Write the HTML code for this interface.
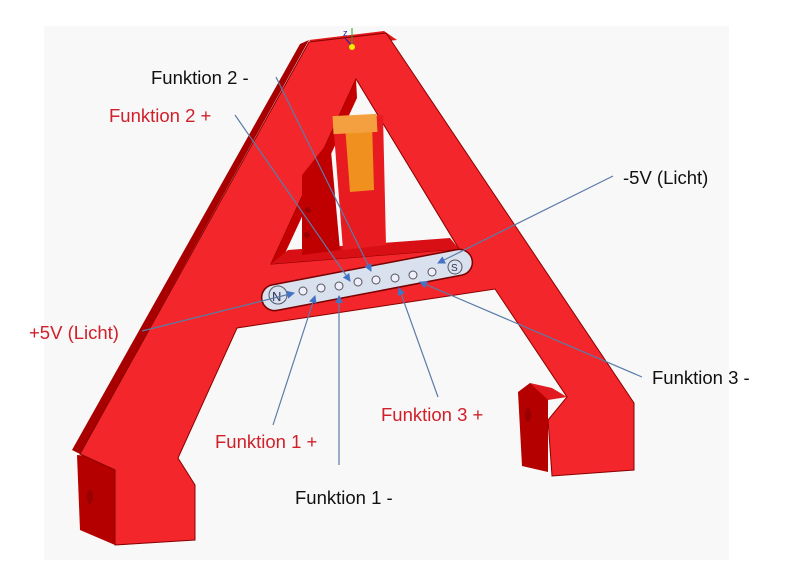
<!DOCTYPE html>
<html><head><meta charset="utf-8"><style>
body{margin:0;background:#fff;width:800px;height:567px;overflow:hidden}
svg{display:block}
text{font-family:"Liberation Sans",sans-serif;font-size:18.5px}
</style></head><body>
<svg width="800" height="567" viewBox="0 0 800 567">
<defs><marker id="a" markerWidth="8" markerHeight="8" refX="7" refY="4" orient="auto" markerUnits="userSpaceOnUse"><path d="M0,0 L8,4 L0,8 z" fill="#4472c4"/></marker></defs>
<rect x="44" y="26" width="685" height="534" fill="#f8f8f8"/>
<polygon points="300,44 309,40 80,454 72,450" fill="#a80000"/>
<polygon points="309,40 384,31 397,40 318,48" fill="#e01818"/>
<polygon points="77,455 115,458 115,545 80,530" fill="#b50000"/>
<path fill-rule="evenodd" fill="#f2262b" stroke="#8a0000" stroke-width="1" d="M309,42 L386,33 L634,403 L634,470 L552,476 L548,420 L567,397 L495,289 L237,328 L178,458 L195,485 L195,540 L115,545 L115,470 L80,454 Z M356,79 L459,249 L271,264 Z"/>
<polygon points="518,392 530,383 548,394 548,472 522,466" fill="#b50000"/>
<polygon points="530,383 552,388 567,397 548,400" fill="#e01a1e"/>
<polygon points="356,79 271,264 281,262 357,98" fill="#c40000"/>
<polygon points="271,264 459,249 450,238 288,250" fill="#d80f14"/>
<polygon points="302,175 330,140 340,250 302,255" fill="#c00000"/>
<polygon points="333,120 383,115 386,245 343,250" fill="#e81c20"/>
<polygon points="345,125 372,122 374,190 350,192" fill="#f0901e"/>
<rect x="333" y="115" width="44" height="18" fill="#f5a040" transform="rotate(-3 355 124)"/>
<circle cx="308" cy="210" r="3" fill="#900"/><circle cx="307" cy="235" r="3" fill="#900"/>
<ellipse cx="90" cy="497" rx="3" ry="7" fill="#900"/>
<ellipse cx="528" cy="415" rx="3" ry="7" fill="#900"/>
<g transform="rotate(-10.8 367 280)">
<rect x="260" y="267" width="214" height="26" rx="13" fill="#d9e1ee" stroke="#700" stroke-width="1.5"/>
</g>
<circle cx="278" cy="295" r="9" fill="none" stroke="#556" stroke-width="1"/>
<text x="272" y="301" style="font-size:13px" fill="#335">N</text>
<circle cx="455" cy="267" r="7" fill="none" stroke="#556" stroke-width="1"/>
<text x="451" y="271" style="font-size:10px" fill="#335">S</text>
<g fill="#eef" stroke="#555" stroke-width="1">
<circle cx="303" cy="291" r="4"/><circle cx="321" cy="288" r="4"/><circle cx="339" cy="286" r="4"/><circle cx="358" cy="282" r="4"/><circle cx="376" cy="280" r="4"/><circle cx="395" cy="278" r="4"/><circle cx="413" cy="275" r="4"/><circle cx="432" cy="272" r="4"/>
</g>
<line x1="352" y1="46" x2="352" y2="28" stroke="#2a2"/><line x1="352" y1="46" x2="345" y2="38" stroke="#22a"/>
<circle cx="352" cy="47" r="3" fill="#ee0"/>
<text x="343" y="36" style="font-size:9px" fill="#22a">z</text>
<g stroke="#5b7ca8" stroke-width="1.2" fill="none" marker-end="url(#a)">
<line x1="276" y1="77" x2="371" y2="271"/>
<line x1="235" y1="115" x2="350" y2="281"/>
<line x1="613" y1="176" x2="438" y2="263"/>
<line x1="142" y1="331" x2="294" y2="293"/>
<line x1="642" y1="377" x2="420" y2="282"/>
<line x1="438" y1="397" x2="399" y2="288"/>
<line x1="273" y1="425" x2="315" y2="296"/>
<line x1="339" y1="465" x2="339" y2="296"/>
</g>
<text x="151" y="84" fill="#111">Funktion 2 -</text>
<text x="109" y="122" fill="#d0202a">Funktion 2 +</text>
<text x="623" y="184" fill="#111">-5V (Licht)</text>
<text x="29" y="339" fill="#d0202a">+5V (Licht)</text>
<text x="652" y="384" fill="#111">Funktion 3 -</text>
<text x="381" y="421" fill="#d0202a">Funktion 3 +</text>
<text x="215" y="448" fill="#d0202a">Funktion 1 +</text>
<text x="295" y="504" fill="#111">Funktion 1 -</text>
</svg>
</body></html>
